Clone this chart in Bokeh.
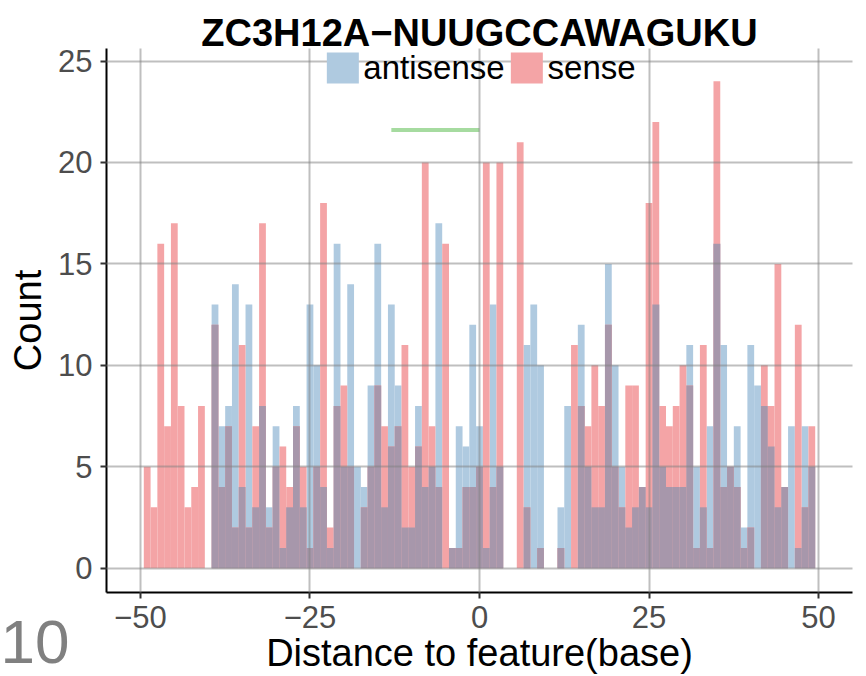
from bokeh.plotting import figure
from bokeh.models import (ColumnDataSource, FixedTicker, Legend, LegendItem,
                          Title, Range1d)
from bokeh.embed import file_html
from bokeh.resources import INLINE

# ---------------- data ----------------
bins = list(range(-49, 50))
antisense = [0, 0, 0, 0, 0, 0, 0, 0, 0, 0,
             13, 7, 8, 14, 4, 13, 3, 8, 3, 7,
             1, 3, 8, 3, 13, 10, 4, 1, 16, 5,
             14, 5, 4, 9, 16, 3, 13, 9, 2, 2,
             8, 4, 5, 17, 0, 1, 7, 6, 12, 7,
             1, 13, 5, 0, 0, 0, 11, 13, 10, 0,
             0, 3, 8, 0, 12, 5, 3, 3, 15, 10,
             5, 2, 3, 4, 3, 13, 5, 4, 4, 4,
             11, 5, 3, 7, 16, 11, 5, 7, 2, 11,
             9, 8, 6, 3, 4, 7, 1, 7, 5]
sense = [5, 3, 16, 7, 17, 8, 3, 4, 8, 0,
         12, 4, 7, 2, 11, 2, 7, 17, 2, 5,
         6, 4, 7, 5, 1, 5, 18, 2, 8, 9,
         5, 0, 3, 5, 9, 7, 6, 7, 11, 5,
         6, 20, 7, 4, 16, 1, 1, 4, 4, 5,
         20, 4, 20, 0, 0, 21, 3, 0, 1, 0,
         0, 1, 0, 11, 8, 7, 10, 8, 12, 5,
         3, 9, 9, 4, 18, 22, 8, 7, 8, 10,
         9, 1, 11, 1, 24, 4, 5, 4, 1, 2,
         0, 10, 8, 15, 4, 0, 12, 3, 7]
series_names = ["antisense", "sense"]
title_text = "ZC3H12A\u2212NUUGCCAWAGUKU"
motif = "NUUGCCAWAGUKU"
x_ticks = [-50, -25, 0, 25, 50]
x_tick_labels = ["\u221250", "\u221225", "0", "25", "50"]
y_ticks = [0, 5, 10, 15, 20, 25]
panel_tag = "10"
x_title = "Distance to feature(base)"
y_title = "Count"

# ---------------- styles ----------------
FONT = "Liberation Sans"
BLUE = "#afcae0"
RED = "#f4a4a6"
PURPLE = "#a797ab"
GREEN = "#a6dba0"

left = [b - 0.5 for b in bins]
right = [b + 0.5 for b in bins]
overlap = [min(a, s) for a, s in zip(antisense, sense)]
src = ColumnDataSource(dict(left=left, right=right, anti=antisense,
                            sense=sense, both=overlap))

p = figure(width=866, height=676, output_backend="svg", toolbar_location=None,
           x_range=Range1d(-55, 55), y_range=Range1d(-1.2, 25.62),
           min_border_left=106, min_border_right=14, min_border_top=48,
           min_border_bottom=84)

r_anti = p.quad(left="left", right="right", bottom=0, top="anti", source=src,
                fill_color=BLUE, line_color=None)
r_sense = p.quad(left="left", right="right", bottom=0, top="sense", source=src,
                 fill_color=RED, line_color=None)
p.quad(left="left", right="right", bottom=0, top="both", source=src,
       fill_color=PURPLE, line_color=None)

ymax = max(max(antisense), max(sense))
p.line(x=[-len(motif), 0], y=[0.9 * ymax, 0.9 * ymax], line_color=GREEN,
       line_width=4)

# title
p.title.text = title_text
p.title.text_font = FONT
p.title.text_font_size = "38px"
p.title.text_font_style = "bold"
p.title.text_color = "black"
p.title.align = "center"
p.title.standoff = -10

# axes
for ax in (p.xaxis[0], p.yaxis[0]):
    ax.axis_line_color = "black"
    ax.axis_line_width = 2
    ax.major_tick_line_color = "#333333"
    ax.major_tick_line_width = 2
    ax.major_tick_out = 6
    ax.major_tick_in = 0
    ax.minor_tick_line_color = None
    ax.major_label_text_font = FONT
    ax.major_label_text_font_size = "31px"
    ax.major_label_text_color = "#4d4d4d"
    ax.axis_label_text_font = FONT
    ax.axis_label_text_font_size = "38px"
    ax.axis_label_text_font_style = "normal"
    ax.axis_label_text_color = "black"

p.xaxis[0].ticker = FixedTicker(ticks=x_ticks)
p.xaxis[0].major_label_overrides = dict(zip(x_ticks, x_tick_labels))
p.yaxis[0].ticker = FixedTicker(ticks=y_ticks)
p.xaxis[0].axis_label = x_title
p.yaxis[0].axis_label = y_title
p.xaxis[0].major_label_standoff = 7
p.xaxis[0].axis_label_standoff = 1
p.yaxis[0].major_label_standoff = 8
p.yaxis[0].axis_label_standoff = 6
p.yaxis[0].major_label_orientation = "horizontal"

for g in (p.xgrid[0], p.ygrid[0]):
    g.grid_line_color = "#808080"
    g.grid_line_alpha = 0.5
    g.grid_line_width = 2
    g.level = "overlay"
p.xgrid[0].ticker = FixedTicker(ticks=x_ticks)
p.ygrid[0].ticker = FixedTicker(ticks=y_ticks)

p.outline_line_color = None
p.background_fill_color = "white"
p.border_fill_color = "white"

legend = Legend(items=[LegendItem(label=series_names[0], renderers=[r_anti]),
                       LegendItem(label=series_names[1], renderers=[r_sense])],
                orientation="horizontal", location="top_center",
                glyph_width=40, glyph_height=39, label_standoff=1, spacing=2,
                padding=0, margin=0, border_line_color=None,
                background_fill_alpha=0, label_text_font=FONT,
                label_text_font_size="33px", label_text_color="black")
p.add_layout(legend, "center")

tag = Title(text=panel_tag, align="left", offset=-106, standoff=-112,
            vertical_align="top", text_font=FONT, text_font_size="62px",
            text_font_style="normal", text_color="#808080")
p.add_layout(tag, "below")

open("out.html", "w").write(file_html(p, INLINE))
